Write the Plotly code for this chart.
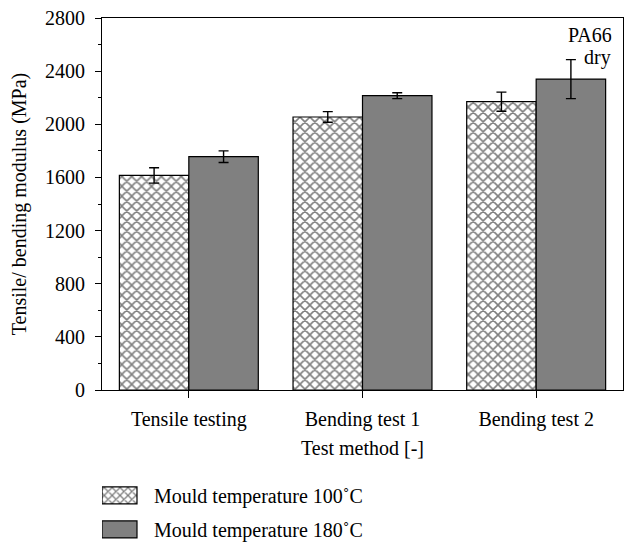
import plotly.graph_objects as go

categories = ["Tensile testing", "Bending test 1", "Bending test 2"]
mould_100 = [1615, 2055, 2170]
mould_100_err = [58, 40, 72]
mould_180 = [1756, 2215, 2340]
mould_180_err = [44, 22, 147]
series_names = ["Mould temperature 100˚C", "Mould temperature 180˚C"]
y_ticks = [0, 400, 800, 1200, 1600, 2000, 2400, 2800]

FONT = "Liberation Serif"
FS = 20

fig = go.Figure()
fig.add_trace(go.Bar(
    x=categories, y=mould_100, name=series_names[0], legendgroup="a",
    marker=dict(color="white", line=dict(color="black", width=1.2),
                pattern=dict(shape="x", fgcolor="black", bgcolor="white", size=7, solidity=0.4)),
    error_y=dict(type="data", array=mould_100_err, color="black", thickness=1.4, width=5),
))
fig.add_trace(go.Bar(
    x=categories, y=mould_180, name=series_names[1], legendgroup="b",
    marker=dict(color="#808080", line=dict(color="black", width=1.2)),
    error_y=dict(type="data", array=mould_180_err, color="black", thickness=1.4, width=5),
))

fig.add_annotation(text="PA66", xref="paper", yref="paper", x=0.982, y=0.954,
                   xanchor="right", yanchor="middle", showarrow=False, height=18,
                   font=dict(family=FONT, size=FS, color="black"))
fig.add_annotation(text="dry", xref="paper", yref="paper", x=0.981, y=0.8925,
                   xanchor="right", yanchor="middle", showarrow=False,
                   font=dict(family=FONT, size=FS, color="black"))

fig.update_layout(
    width=625, height=542, autosize=False,
    margin=dict(l=102, r=2, t=18, b=152, autoexpand=False),
    paper_bgcolor="white", plot_bgcolor="white",
    font=dict(family=FONT, size=FS, color="black"),
    barmode="group", bargap=0.2, bargroupgap=0,
    legend=dict(x=0.0, y=-0.231, xanchor="left", yanchor="top", orientation="v",
                tracegroupgap=5, itemwidth=42, font=dict(family=FONT, size=FS),
                bgcolor="rgba(0,0,0,0)"),
    showlegend=True,
)
fig.update_xaxes(
    title=dict(text="Test method [-]", font=dict(family=FONT, size=FS), standoff=10),
    range=[-0.5, 2.5], showline=True, linecolor="black", linewidth=1.2, mirror=True,
    ticks="outside", ticklen=7, tickcolor="black", showgrid=False, automargin=False,
    ticklabelstandoff=4,
)
fig.update_yaxes(
    title=dict(text="Tensile/ bending modulus (MPa)", font=dict(family=FONT, size=FS), standoff=12),
    range=[0, 2800], tickvals=y_ticks, showline=True, linecolor="black", linewidth=1.2, mirror=True,
    ticks="outside", ticklen=6, tickcolor="black", showgrid=False, zeroline=False, automargin=False,
    ticklabelstandoff=6,
    minor=dict(dtick=200, ticks="outside", ticklen=3, tickcolor="black", showgrid=False),
)

fig.write_html(
    "out.html",
    config={"displayModeBar": False},
    post_script=(
        "document.body.style.margin='0';document.body.style.padding='0';"
        "document.body.style.overflow='hidden';"
        "var gd=document.getElementById('{plot_id}');"
        "gd.querySelectorAll('.legend .traces .legendpoints path').forEach(function(p){"
        "p.setAttribute('d','M9,8.5H-26V-8.5H9Z');});"
    ),
)
